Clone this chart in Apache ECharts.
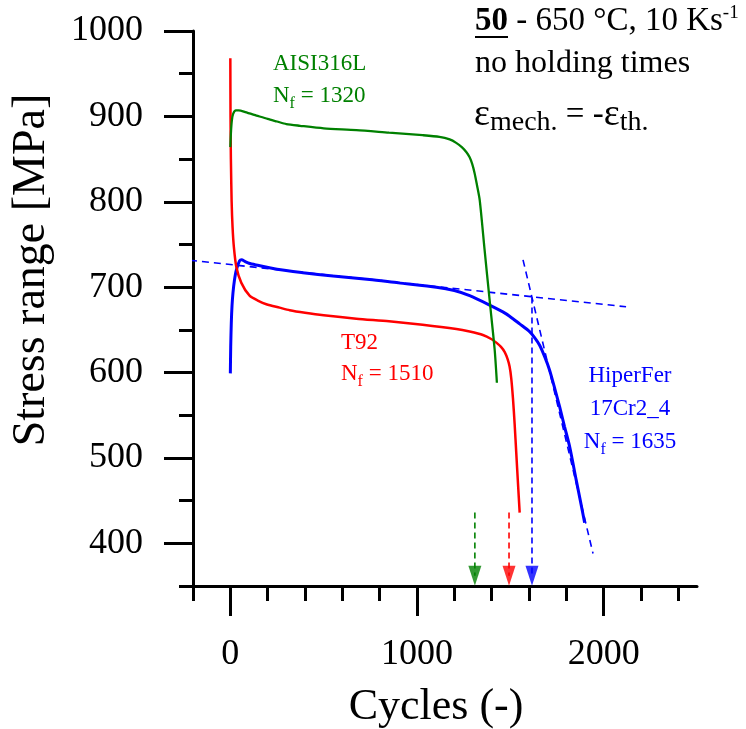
<!DOCTYPE html>
<html>
<head>
<meta charset="utf-8">
<script src="https://cdn.jsdelivr.net/npm/echarts@6/dist/echarts.min.js"></script>
<style>html,body{margin:0;padding:0;background:#fff}#c{width:746px;height:729px}</style>
</head>
<body>
<div id="c"></div>
<script>
// ---- tick values ----
const xMinorTicks = [-200, 0, 200, 400, 600, 800, 1000, 1200, 1400, 1600, 1800, 2000, 2200, 2400];
const xMajorTicks = [0, 1000, 2000];
const yMinorTicks = [350, 400, 450, 500, 550, 600, 650, 700, 750, 800, 850, 900, 950, 1000];
const yMajorTicks = [400, 500, 600, 700, 800, 900, 1000];

// ---- AISI316L (green) ----
const aisiX = [0, 3, 8, 15, 30, 45, 80, 140, 200, 250, 300, 373, 500, 675, 850, 1030, 1120, 1175, 1210, 1240, 1265, 1282, 1296, 1308, 1320, 1336, 1362, 1389, 1416, 1428];
const aisiY = [864, 880, 895, 903, 907, 907, 905, 901, 897, 894, 891, 889, 886, 884, 881, 878, 876, 873, 869, 864, 858, 852, 844, 834, 821, 802, 744, 685, 627, 588];

// ---- T92 (red) ----
const t92X = [0, 1, 3, 7, 12, 19, 32, 59, 103, 150, 193, 264, 318, 400, 500, 675, 850, 1030, 1211, 1282, 1353, 1400, 1425, 1450, 1470, 1485, 1496, 1505, 1514, 1523, 1532, 1541, 1550];
const t92Y = [968, 900, 850, 800, 770, 747, 724, 705, 690, 684, 680, 676, 673, 670, 667, 663, 660, 656, 651, 648, 644, 639, 635, 630, 624, 616, 607, 593, 570, 540, 505, 470, 436];

// ---- HiperFer 17Cr2_4 (blue) ----
const hfX = [0, 2, 5, 9, 14, 22, 32, 50, 60, 80, 100, 139, 250, 389, 550, 746, 900, 1104, 1200, 1282, 1389, 1460, 1496, 1550, 1603, 1630, 1657, 1685, 1710, 1737, 1764, 1790, 1818, 1853, 1875, 1898];
const hfY = [599, 630, 657, 678, 693, 708, 720, 731, 732, 730, 728, 726, 721, 717, 713, 709, 705, 700, 696, 690, 679, 671, 666, 657, 648, 641, 632, 618, 603, 582, 560, 537, 513, 474, 450, 424];

// ---- tangent construction (blue dashed) ----
const tangentAX = [-280, 2120];
const tangentAY = [733, 677];
const tangentBX = [1568, 1943];
const tangentBY = [732, 388];

// ---- failure arrows ----
const arrowNames = ['AISI316L', 'T92', 'HiperFer'];
const arrowX = [1310, 1493, 1616];
const arrowTopY = [436, 436, 688];
const arrowTipY = 362;
const arrowColors = ['#008000', '#ff0000', '#0000ff'];

const FONT = "'Liberation Serif', 'Times New Roman', serif";

function pairs(xs, ys) { return xs.map((x, i) => [x, ys[i]]); }

const chart = echarts.init(document.getElementById('c'), null, {renderer: 'canvas'});

const axisLineStyle = {color: '#000', width: 3};
const tickStyle = {color: '#000', width: 3};

const series = [];
series.push({
  type: 'line', name: 'tangentA', data: pairs(tangentAX, tangentAY), clip: false, showSymbol: false, silent: true,
  lineStyle: {color: '#0000ff', width: 1.6, type: [7, 5]}, z: 2
});
series.push({
  type: 'line', name: 'tangentB', data: pairs(tangentBX, tangentBY), clip: false, showSymbol: false, silent: true,
  lineStyle: {color: '#0000ff', width: 1.6, type: [7, 5]}, z: 2
});
arrowX.forEach((x, i) => {
  series.push({
    type: 'line', name: arrowNames[i] + ' Nf', data: [[x, arrowTopY[i]], [x, arrowTipY]], showSymbol: false, silent: true,
    lineStyle: {color: arrowColors[i], width: 1.6, type: [6, 4]}, z: 2
  });
  series.push({
    type: 'scatter', name: arrowNames[i] + ' arrow', data: [[x, arrowTipY]], symbol: 'triangle', symbolRotate: 180,
    symbolSize: [13, 20], itemStyle: {color: arrowColors[i]}, silent: true, z: 3
  });
});
series.push({
  type: 'line', name: 'HiperFer 17Cr2_4', data: pairs(hfX, hfY), showSymbol: false, smooth: 0.25,
  lineStyle: {color: '#0000ff', width: 3}, z: 4
});
series.push({
  type: 'line', name: 'T92', data: pairs(t92X, t92Y), showSymbol: false, smooth: 0.25,
  lineStyle: {color: '#ff0000', width: 2.5}, z: 5
});
series.push({
  type: 'line', name: 'AISI316L', data: pairs(aisiX, aisiY), showSymbol: false, smooth: 0.25,
  lineStyle: {color: '#008000', width: 2.3}, z: 6
});

function txt(x, y, text, opts) {
  return {
    type: 'text', x: x, y: y, silent: true, z: 10,
    style: Object.assign({
      text: text, fontFamily: FONT, fontSize: 32, fill: '#000',
      textAlign: 'left', align: 'left', textVerticalAlign: 'top', verticalAlign: 'top'
    }, opts || {})
  };
}

function nfRich(color) {
  return {
    n: {fontFamily: FONT, fontSize: 23, lineHeight: 33, verticalAlign: 'middle', color: color, fill: color},
    f: {fontFamily: FONT, fontSize: 16, lineHeight: 16, verticalAlign: 'bottom', color: color, fill: color}
  };
}

const graphics = [
  // axis titles
  txt(436, 707, 'Cycles (-)', {fontSize: 44, textAlign: 'center', align: 'center', textVerticalAlign: 'middle', verticalAlign: 'middle'}),
  {type: 'text', x: 32, y: 270, rotation: Math.PI / 2, silent: true, z: 10,
   style: {text: 'Stress range [MPa]', fontFamily: FONT, fontSize: 46, fill: '#000',
           textAlign: 'center', align: 'center', textVerticalAlign: 'middle', verticalAlign: 'middle'}},
  // test conditions
  txt(475, 4, '{b|50}{t| - 650 °C, 10 Ks}{p|-1}', {rich: {
    b: {fontFamily: FONT, fontSize: 33, fontWeight: 'bold', lineHeight: 34, verticalAlign: 'middle'},
    t: {fontFamily: FONT, fontSize: 33, lineHeight: 34, verticalAlign: 'middle'},
    p: {fontFamily: FONT, fontSize: 19, lineHeight: 19, verticalAlign: 'top'}
  }}),
  {type: 'line', silent: true, z: 10, shape: {x1: 475, y1: 37, x2: 508, y2: 37}, style: {stroke: '#000', lineWidth: 2}},
  txt(475, 64, 'no holding times', {textVerticalAlign: 'middle', verticalAlign: 'middle'}),
  txt(474, 93, '{e|ε}{s|mech.}{m| = -}{e|ε}{s|th.}', {rich: {
    e: {fontFamily: FONT, fontSize: 38, lineHeight: 44, verticalAlign: 'middle'},
    s: {fontFamily: FONT, fontSize: 28, lineHeight: 28, verticalAlign: 'bottom'},
    m: {fontFamily: FONT, fontSize: 33, lineHeight: 44, verticalAlign: 'middle'}
  }}),
  // series annotations
  txt(273, 64, 'AISI316L', {fontSize: 23, fill: '#008000', textVerticalAlign: 'middle', verticalAlign: 'middle'}),
  txt(273, 79, '{n|N}{f|f}{n| = 1320}', {fill: '#008000', rich: nfRich('#008000')}),
  txt(341, 343, 'T92', {fontSize: 23, fill: '#ff0000', textVerticalAlign: 'middle', verticalAlign: 'middle'}),
  txt(341, 357, '{n|N}{f|f}{n| = 1510}', {fill: '#ff0000', rich: nfRich('#ff0000')}),
  txt(630, 376, 'HiperFer', {fontSize: 23, fill: '#0000ff', textAlign: 'center', align: 'center', textVerticalAlign: 'middle', verticalAlign: 'middle'}),
  txt(630, 409, '17Cr2_4', {fontSize: 23, fill: '#0000ff', textAlign: 'center', align: 'center', textVerticalAlign: 'middle', verticalAlign: 'middle'}),
  txt(630, 425, '{n|N}{f|f}{n| = 1635}', {fill: '#0000ff', textAlign: 'center', align: 'center', rich: nfRich('#0000ff')})
];

const plainNumber = v => String(v);

chart.setOption({
  animation: false,
  backgroundColor: '#fff',
  grid: {left: 193, top: 31, width: 504, height: 555, containLabel: false},
  xAxis: [
    {type: 'value', min: -200, max: 2500, position: 'bottom',
     axisLine: {show: true, onZero: false, lineStyle: axisLineStyle},
     axisTick: {show: true, customValues: xMinorTicks, length: 15, lineStyle: tickStyle},
     axisLabel: {show: false}, splitLine: {show: false}},
    {type: 'value', min: -200, max: 2500, position: 'bottom',
     axisLine: {show: false, onZero: false},
     axisTick: {show: true, customValues: xMajorTicks, length: 30, lineStyle: tickStyle},
     axisLabel: {show: true, customValues: xMajorTicks, formatter: plainNumber, margin: 51, fontSize: 36, fontFamily: FONT, color: '#000'},
     splitLine: {show: false}}
  ],
  yAxis: [
    {type: 'value', min: 350, max: 1000, position: 'left',
     axisLine: {show: true, onZero: false, lineStyle: axisLineStyle},
     axisTick: {show: true, customValues: yMinorTicks, length: 14, lineStyle: tickStyle},
     axisLabel: {show: false}, splitLine: {show: false}},
    {type: 'value', min: 350, max: 1000, position: 'left',
     axisLine: {show: false, onZero: false},
     axisTick: {show: true, customValues: yMajorTicks, length: 29, lineStyle: tickStyle},
     axisLabel: {show: true, customValues: yMajorTicks, formatter: plainNumber, margin: 50, fontSize: 36, fontFamily: FONT, color: '#000'},
     splitLine: {show: false}}
  ],
  series: series,
  graphic: graphics
});
</script>
</body>
</html>
